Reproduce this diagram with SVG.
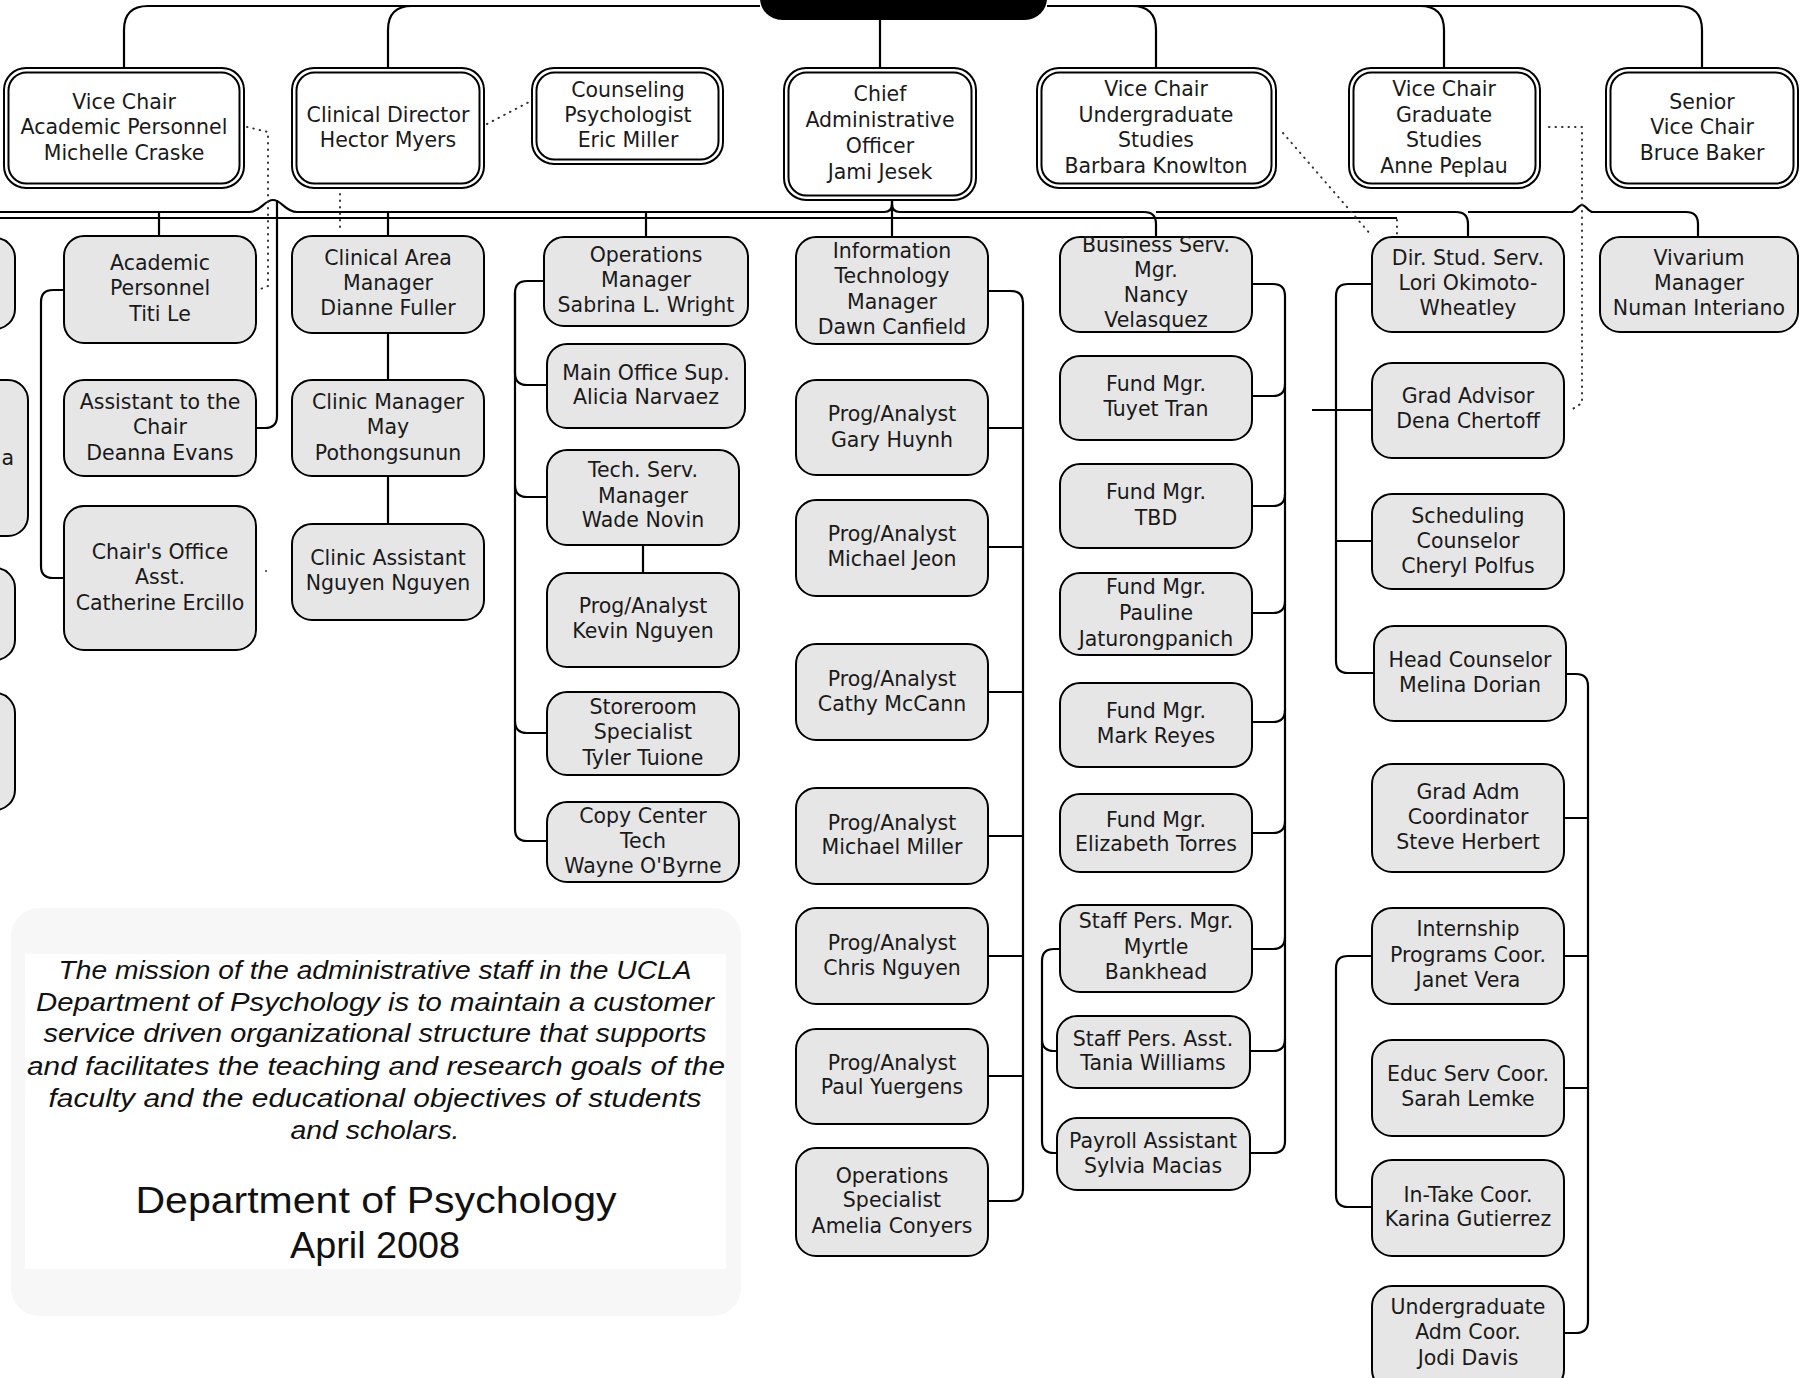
<svg xmlns="http://www.w3.org/2000/svg" width="1805" height="1378" viewBox="0 0 1805 1378">
<style>
.g{fill:#e6e6e6;stroke:#000;stroke-width:2}
.wo{fill:#fff;stroke:#000;stroke-width:2}
.wi{fill:none;stroke:#000;stroke-width:2}
.t{font-family:"DejaVu Sans",sans-serif;font-size:20.5px;text-anchor:middle;fill:#1a1a1a}
.c{fill:none;stroke:#000;stroke-width:2.2}
.d{fill:none;stroke:#333;stroke-width:2;stroke-dasharray:0.5 6;stroke-linecap:round}
.m{font-family:"Liberation Sans",sans-serif;font-style:italic;font-size:25px;text-anchor:middle;fill:#111}
.h{font-family:"Liberation Sans",sans-serif;font-size:36px;text-anchor:middle;fill:#111}
</style>
<rect width="1805" height="1378" fill="#fff"/>

<g id="connectors">
<path class="c" d="M760,6 H148 Q124,6 124,30 V68"/>
<path class="c" d="M760,6 H412 Q388,6 388,30 V68"/>
<path class="c" d="M880,20 V68"/>
<path class="c" d="M1047,6 H1132 Q1156,6 1156,30 V68"/>
<path class="c" d="M1047,6 H1420 Q1444,6 1444,30 V68"/>
<path class="c" d="M1047,6 H1678 Q1702,6 1702,30 V68"/>
<path class="c" d="M892,200 V237"/>
<path class="c" d="M892,200 V204 Q892,212 884,212 H297 C285,212 282,200 273,200 C264,200 261,212 249,212 H-5"/>
<path class="c" d="M892,204 Q892,212 900,212 H1144 Q1156,212 1156,224 V237"/>
<path class="c" d="M1156,212 H1456 Q1468,212 1468,224 V237"/>
<path class="c" d="M1468,212 H1571 C1576,212 1578,205 1582,205 C1586,205 1588,212 1593,212 H1686 Q1698,212 1698,224 V237"/>
<path class="c" d="M-5,218 H1397"/>
<path class="c" d="M159,212 V236"/>
<path class="c" d="M388,212 V236"/>
<path class="c" d="M646,212 V237"/>
<path class="c" d="M277,200 V416 Q277,428 265,428 H256"/>
<path class="c" d="M64,290 H53 Q41,290 41,302 V566 Q41,578 53,578 H64"/>
<path class="c" d="M388,333 V380 M388,476 V524"/>
<path class="c" d="M544,281 H527 Q515,281 515,293 V373 Q515,385 527,385 H547"/>
<path class="c" d="M515,293 V485 Q515,497 527,497 H547"/>
<path class="c" d="M515,485 V721 Q515,733 527,733 H547"/>
<path class="c" d="M515,721 V829 Q515,841 527,841 H547"/>
<path class="c" d="M643,545 V573"/>
<path class="c" d="M988,291 H1011 Q1023,291 1023,303 V1189 Q1023,1201 1011,1201 H988"/>
<path class="c" d="M988,428 H1023 M988,547 H1023 M988,692 H1023 M988,836 H1023 M988,956 H1023 M988,1076 H1023"/>
<path class="c" d="M1250,284 H1273 Q1285,284 1285,296 V1141 Q1285,1153 1273,1153 H1250"/>
<path class="c" d="M1285,384 Q1285,396 1273,396 H1252 M1285,494 Q1285,506 1273,506 H1252 M1285,601 Q1285,613 1273,613 H1252 M1285,710 Q1285,722 1273,722 H1252 M1285,821 Q1285,833 1273,833 H1252 M1285,937 Q1285,949 1273,949 H1252 M1285,1039 Q1285,1051 1273,1051 H1250"/>
<path class="c" d="M1060,949 H1054 Q1042,949 1042,961 V1141 Q1042,1153 1054,1153 H1057 M1042,1039 Q1042,1051 1054,1051 H1057"/>
<path class="c" d="M1372,284 H1348 Q1336,284 1336,296 V661 Q1336,673 1348,673 H1374 M1336,541 H1372 M1312,410 H1372"/>
<path class="c" d="M1566,674 H1576 Q1588,674 1588,686 V1321 Q1588,1333 1576,1333 H1564 M1564,818 H1588 M1564,956 H1588 M1564,1088 H1588"/>
<path class="c" d="M1372,956 H1348 Q1336,956 1336,968 V1195 Q1336,1207 1348,1207 H1372"/>
<path class="d" d="M247,127 L268,132 V286 L258,290"/>
<path class="d" d="M487,124 L531,101"/>
<path class="d" d="M340,194 V229"/>
<path class="d" d="M1283,133 L1372,236"/>
<path class="d" d="M1549,127 H1582 V403 L1571,410"/>
<path class="d" d="M1397,220 V236"/>
<circle cx="266" cy="571" r="1" fill="#333"/>
</g>

<g id="n-top"><rect x="760" y="-40" width="287" height="60" rx="22" fill="#000"/></g>

<g id="n-vc-academic"><rect class="wo" x="4" y="68" width="240" height="120" rx="22"/><rect class="wi" x="8.5" y="72.5" width="231" height="111" rx="18"/>
<text class="t"><tspan x="124" y="109">Vice Chair</tspan><tspan x="124" y="134">Academic Personnel</tspan><tspan x="124" y="160">Michelle Craske</tspan></text></g>
<g id="n-clinical-director"><rect class="wo" x="292" y="68" width="192" height="120" rx="22"/><rect class="wi" x="296.5" y="72.5" width="183" height="111" rx="18"/>
<text class="t"><tspan x="388" y="122">Clinical Director</tspan><tspan x="388" y="147">Hector Myers</tspan></text></g>
<g id="n-counseling"><rect class="wo" x="532" y="68" width="191" height="96" rx="22"/><rect class="wi" x="536.5" y="72.5" width="182" height="87" rx="18"/>
<text class="t"><tspan x="628" y="97">Counseling</tspan><tspan x="628" y="122">Psychologist</tspan><tspan x="628" y="147">Eric Miller</tspan></text></g>
<g id="n-cao"><rect class="wo" x="784" y="68" width="192" height="132" rx="22"/><rect class="wi" x="788.5" y="72.5" width="183" height="123" rx="18"/>
<text class="t"><tspan x="880" y="101">Chief</tspan><tspan x="880" y="127">Administrative</tspan><tspan x="880" y="153">Officer</tspan><tspan x="880" y="179">Jami Jesek</tspan></text></g>
<g id="n-vc-undergrad"><rect class="wo" x="1037" y="68" width="239" height="120" rx="22"/><rect class="wi" x="1041.5" y="72.5" width="230" height="111" rx="18"/>
<text class="t"><tspan x="1156" y="96">Vice Chair</tspan><tspan x="1156" y="122">Undergraduate</tspan><tspan x="1156" y="147">Studies</tspan><tspan x="1156" y="173">Barbara Knowlton</tspan></text></g>
<g id="n-vc-grad"><rect class="wo" x="1349" y="68" width="191" height="120" rx="22"/><rect class="wi" x="1353.5" y="72.5" width="182" height="111" rx="18"/>
<text class="t"><tspan x="1444" y="96">Vice Chair</tspan><tspan x="1444" y="122">Graduate</tspan><tspan x="1444" y="147">Studies</tspan><tspan x="1444" y="173">Anne Peplau</tspan></text></g>
<g id="n-senior-vc"><rect class="wo" x="1606" y="68" width="192" height="120" rx="22"/><rect class="wi" x="1610.5" y="72.5" width="183" height="111" rx="18"/>
<text class="t"><tspan x="1702" y="109">Senior</tspan><tspan x="1702" y="134">Vice Chair</tspan><tspan x="1702" y="160">Bruce Baker</tspan></text></g>

<g id="n-edge-a"><rect class="g" x="-200" y="238" width="215" height="91" rx="20"/></g>
<g id="n-edge-b"><rect class="g" x="-200" y="380" width="228" height="156" rx="20"/><text class="t" x="14" y="465" style="text-anchor:end">a</text></g>
<g id="n-edge-c"><rect class="g" x="-200" y="568" width="215" height="92" rx="20"/></g>
<g id="n-edge-d"><rect class="g" x="-200" y="693" width="215" height="117" rx="20"/></g>

<g id="n-academic-personnel"><rect class="g" x="64" y="236" width="192" height="107" rx="20"/>
<text class="t"><tspan x="160" y="270">Academic</tspan><tspan x="160" y="295">Personnel</tspan><tspan x="160" y="321">Titi Le</tspan></text></g>
<g id="n-assistant-chair"><rect class="g" x="64" y="380" width="192" height="96" rx="20"/>
<text class="t"><tspan x="160" y="409">Assistant to the</tspan><tspan x="160" y="434">Chair</tspan><tspan x="160" y="460">Deanna Evans</tspan></text></g>
<g id="n-chairs-office"><rect class="g" x="64" y="506" width="192" height="144" rx="20"/>
<text class="t"><tspan x="160" y="559">Chair's Office</tspan><tspan x="160" y="584">Asst.</tspan><tspan x="160" y="610">Catherine Ercillo</tspan></text></g>

<g id="n-clinical-area"><rect class="g" x="292" y="236" width="192" height="97" rx="20"/>
<text class="t"><tspan x="388" y="265">Clinical Area</tspan><tspan x="388" y="290">Manager</tspan><tspan x="388" y="315">Dianne Fuller</tspan></text></g>
<g id="n-clinic-manager"><rect class="g" x="292" y="380" width="192" height="96" rx="20"/>
<text class="t"><tspan x="388" y="409">Clinic Manager</tspan><tspan x="388" y="434">May</tspan><tspan x="388" y="460">Pothongsunun</tspan></text></g>
<g id="n-clinic-assistant"><rect class="g" x="292" y="524" width="192" height="96" rx="20"/>
<text class="t"><tspan x="388" y="565">Clinic Assistant</tspan><tspan x="388" y="590">Nguyen Nguyen</tspan></text></g>

<g id="n-ops-manager"><rect class="g" x="544" y="237" width="204" height="89" rx="20"/>
<text class="t"><tspan x="646" y="262">Operations</tspan><tspan x="646" y="287">Manager</tspan><tspan x="646" y="312">Sabrina L. Wright</tspan></text></g>
<g id="n-main-office"><rect class="g" x="547" y="344" width="198" height="84" rx="20"/>
<text class="t"><tspan x="646" y="380">Main Office Sup.</tspan><tspan x="646" y="404">Alicia Narvaez</tspan></text></g>
<g id="n-tech-serv"><rect class="g" x="547" y="450" width="192" height="95" rx="20"/>
<text class="t"><tspan x="643" y="477">Tech. Serv.</tspan><tspan x="643" y="503">Manager</tspan><tspan x="643" y="527">Wade Novin</tspan></text></g>
<g id="n-kevin"><rect class="g" x="547" y="573" width="192" height="94" rx="20"/>
<text class="t"><tspan x="643" y="613">Prog/Analyst</tspan><tspan x="643" y="638">Kevin Nguyen</tspan></text></g>
<g id="n-storeroom"><rect class="g" x="547" y="692" width="192" height="83" rx="20"/>
<text class="t"><tspan x="643" y="714">Storeroom</tspan><tspan x="643" y="739">Specialist</tspan><tspan x="643" y="765">Tyler Tuione</tspan></text></g>
<g id="n-copy-center"><rect class="g" x="547" y="802" width="192" height="80" rx="20"/>
<text class="t"><tspan x="643" y="823">Copy Center</tspan><tspan x="643" y="848">Tech</tspan><tspan x="643" y="873">Wayne O'Byrne</tspan></text></g>

<g id="n-it-manager"><rect class="g" x="796" y="237" width="192" height="107" rx="20"/>
<text class="t"><tspan x="892" y="258">Information</tspan><tspan x="892" y="283">Technology</tspan><tspan x="892" y="309">Manager</tspan><tspan x="892" y="334">Dawn Canfield</tspan></text></g>
<g id="n-gary"><rect class="g" x="796" y="380" width="192" height="95" rx="20"/>
<text class="t"><tspan x="892" y="421">Prog/Analyst</tspan><tspan x="892" y="447">Gary Huynh</tspan></text></g>
<g id="n-jeon"><rect class="g" x="796" y="500" width="192" height="96" rx="20"/>
<text class="t"><tspan x="892" y="541">Prog/Analyst</tspan><tspan x="892" y="566">Michael Jeon</tspan></text></g>
<g id="n-cathy"><rect class="g" x="796" y="644" width="192" height="96" rx="20"/>
<text class="t"><tspan x="892" y="686">Prog/Analyst</tspan><tspan x="892" y="711">Cathy McCann</tspan></text></g>
<g id="n-miller"><rect class="g" x="796" y="788" width="192" height="96" rx="20"/>
<text class="t"><tspan x="892" y="830">Prog/Analyst</tspan><tspan x="892" y="854">Michael Miller</tspan></text></g>
<g id="n-chris"><rect class="g" x="796" y="908" width="192" height="96" rx="20"/>
<text class="t"><tspan x="892" y="950">Prog/Analyst</tspan><tspan x="892" y="975">Chris Nguyen</tspan></text></g>
<g id="n-paul"><rect class="g" x="796" y="1029" width="192" height="95" rx="20"/>
<text class="t"><tspan x="892" y="1070">Prog/Analyst</tspan><tspan x="892" y="1094">Paul Yuergens</tspan></text></g>
<g id="n-ops-specialist"><rect class="g" x="796" y="1148" width="192" height="108" rx="20"/>
<text class="t"><tspan x="892" y="1183">Operations</tspan><tspan x="892" y="1207">Specialist</tspan><tspan x="892" y="1233">Amelia Conyers</tspan></text></g>

<g id="n-business"><rect class="g" x="1060" y="237" width="192" height="95" rx="20"/>
<text class="t"><tspan x="1156" y="252">Business Serv.</tspan><tspan x="1156" y="277">Mgr.</tspan><tspan x="1156" y="302">Nancy</tspan><tspan x="1156" y="327">Velasquez</tspan></text></g>
<g id="n-tuyet"><rect class="g" x="1060" y="356" width="192" height="84" rx="20"/>
<text class="t"><tspan x="1156" y="391">Fund Mgr.</tspan><tspan x="1156" y="416">Tuyet Tran</tspan></text></g>
<g id="n-tbd"><rect class="g" x="1060" y="464" width="192" height="84" rx="20"/>
<text class="t"><tspan x="1156" y="499">Fund Mgr.</tspan><tspan x="1156" y="525">TBD</tspan></text></g>
<g id="n-pauline"><rect class="g" x="1060" y="573" width="192" height="82" rx="20"/>
<text class="t"><tspan x="1156" y="594">Fund Mgr.</tspan><tspan x="1156" y="620">Pauline</tspan><tspan x="1156" y="646">Jaturongpanich</tspan></text></g>
<g id="n-mark"><rect class="g" x="1060" y="683" width="192" height="84" rx="20"/>
<text class="t"><tspan x="1156" y="718">Fund Mgr.</tspan><tspan x="1156" y="743">Mark Reyes</tspan></text></g>
<g id="n-elizabeth"><rect class="g" x="1060" y="794" width="192" height="78" rx="20"/>
<text class="t"><tspan x="1156" y="827">Fund Mgr.</tspan><tspan x="1156" y="851">Elizabeth Torres</tspan></text></g>
<g id="n-staff-pers-mgr"><rect class="g" x="1060" y="905" width="192" height="87" rx="20"/>
<text class="t"><tspan x="1156" y="928">Staff Pers. Mgr.</tspan><tspan x="1156" y="954">Myrtle</tspan><tspan x="1156" y="979">Bankhead</tspan></text></g>
<g id="n-staff-pers-asst"><rect class="g" x="1057" y="1016" width="193" height="72" rx="20"/>
<text class="t"><tspan x="1153" y="1046">Staff Pers. Asst.</tspan><tspan x="1153" y="1070">Tania Williams</tspan></text></g>
<g id="n-payroll"><rect class="g" x="1057" y="1118" width="193" height="72" rx="20"/>
<text class="t"><tspan x="1153" y="1148">Payroll Assistant</tspan><tspan x="1153" y="1173">Sylvia Macias</tspan></text></g>

<g id="n-dir-stud"><rect class="g" x="1372" y="237" width="192" height="95" rx="20"/>
<text class="t"><tspan x="1468" y="265">Dir. Stud. Serv.</tspan><tspan x="1468" y="290">Lori Okimoto-</tspan><tspan x="1468" y="315">Wheatley</tspan></text></g>
<g id="n-grad-advisor"><rect class="g" x="1372" y="363" width="192" height="95" rx="20"/>
<text class="t"><tspan x="1468" y="403">Grad Advisor</tspan><tspan x="1468" y="428">Dena Chertoff</tspan></text></g>
<g id="n-scheduling"><rect class="g" x="1372" y="494" width="192" height="95" rx="20"/>
<text class="t"><tspan x="1468" y="523">Scheduling</tspan><tspan x="1468" y="548">Counselor</tspan><tspan x="1468" y="573">Cheryl Polfus</tspan></text></g>
<g id="n-head-counselor"><rect class="g" x="1374" y="626" width="192" height="95" rx="20"/>
<text class="t"><tspan x="1470" y="667">Head Counselor</tspan><tspan x="1470" y="692">Melina Dorian</tspan></text></g>
<g id="n-grad-adm"><rect class="g" x="1372" y="764" width="192" height="108" rx="20"/>
<text class="t"><tspan x="1468" y="799">Grad Adm</tspan><tspan x="1468" y="824">Coordinator</tspan><tspan x="1468" y="849">Steve Herbert</tspan></text></g>
<g id="n-internship"><rect class="g" x="1372" y="908" width="192" height="96" rx="20"/>
<text class="t"><tspan x="1468" y="936">Internship</tspan><tspan x="1468" y="962">Programs Coor.</tspan><tspan x="1468" y="987">Janet Vera</tspan></text></g>
<g id="n-educ"><rect class="g" x="1372" y="1040" width="192" height="96" rx="20"/>
<text class="t"><tspan x="1468" y="1081">Educ Serv Coor.</tspan><tspan x="1468" y="1106">Sarah Lemke</tspan></text></g>
<g id="n-intake"><rect class="g" x="1372" y="1160" width="192" height="96" rx="20"/>
<text class="t"><tspan x="1468" y="1202">In-Take Coor.</tspan><tspan x="1468" y="1226">Karina Gutierrez</tspan></text></g>
<g id="n-undergrad-adm"><rect class="g" x="1372" y="1286" width="192" height="104" rx="20"/>
<text class="t"><tspan x="1468" y="1314">Undergraduate</tspan><tspan x="1468" y="1339">Adm Coor.</tspan><tspan x="1468" y="1365">Jodi Davis</tspan></text></g>

<g id="n-vivarium"><rect class="g" x="1600" y="237" width="198" height="95" rx="20"/>
<text class="t"><tspan x="1699" y="265">Vivarium</tspan><tspan x="1699" y="290">Manager</tspan><tspan x="1699" y="315">Numan Interiano</tspan></text></g>

<g id="mission">
<rect x="11" y="908" width="730" height="408" rx="28" fill="#f7f7f7"/>
<rect x="25" y="954" width="701" height="315" fill="#fff"/>
<text class="m" x="375" y="979" textLength="633" lengthAdjust="spacingAndGlyphs">The mission of the administrative staff in the UCLA</text>
<text class="m" x="375" y="1011" textLength="678" lengthAdjust="spacingAndGlyphs">Department of Psychology is to maintain a customer</text>
<text class="m" x="375" y="1042" textLength="663" lengthAdjust="spacingAndGlyphs">service driven organizational structure that supports</text>
<text class="m" x="376" y="1075" textLength="698" lengthAdjust="spacingAndGlyphs">and facilitates the teaching and research goals of the</text>
<text class="m" x="375" y="1107" textLength="653" lengthAdjust="spacingAndGlyphs">faculty and the educational objectives of students</text>
<text class="m" x="375" y="1139" textLength="169" lengthAdjust="spacingAndGlyphs">and scholars.</text>
<text class="h" x="376" y="1213" textLength="481" lengthAdjust="spacingAndGlyphs">Department of Psychology</text>
<text class="h" x="375" y="1258" textLength="170" lengthAdjust="spacingAndGlyphs">April 2008</text>
</g>
</svg>
